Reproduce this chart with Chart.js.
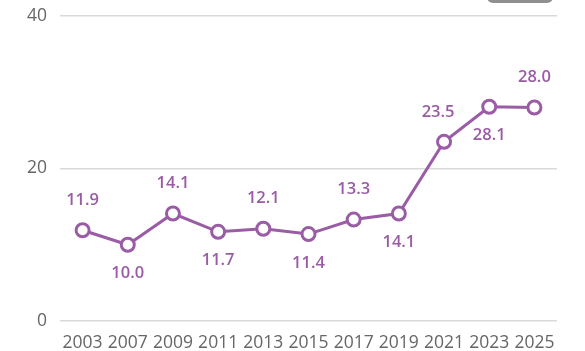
<!DOCTYPE html>
<html lang="en">
  <head>
    <meta charset="UTF-8" />
    <title>Line chart</title>
    <script src="https://cdn.jsdelivr.net/npm/chart.js"></script>
    <style>
      html, body { margin: 0; padding: 0; background: #fff; }
      #wrap { position: relative; width: 585px; height: 351px; }
      #badge {
        position: absolute; left: 487px; top: -10px; width: 66px; height: 13px;
        background: #8f8f8f; border-radius: 6px;
      }
    </style>
  </head>
  <body>
    <div id="wrap">
      <canvas id="chart" width="585" height="351"></canvas>
      <div id="badge"></div>
    </div>
    <script>
      // data
      const years = ['2003', '2007', '2009', '2011', '2013', '2015', '2017', '2019', '2021', '2023', '2025'];
      const values = [11.9, 10.0, 14.1, 11.7, 12.1, 11.4, 13.3, 14.1, 23.5, 28.1, 28.0];
      const labelAbove = [true, false, true, false, true, false, true, false, true, false, true];
      const yTicks = [0, 20, 40];

      const purple = '#9a5ca5';

      // simple value labels, alternating above/below the points
      const valueLabels = {
        id: 'valueLabels',
        afterDatasetsDraw(chart) {
          const ctx = chart.ctx;
          const meta = chart.getDatasetMeta(0);
          ctx.save();
          ctx.font = '600 16.5px "Open Sans"';
          ctx.fillStyle = purple;
          ctx.textAlign = 'center';
          ctx.textBaseline = 'middle';
          meta.data.forEach((pt, i) => {
            let dx = 0;
            if (i === 8) dx = -6;
            const dy = labelAbove[i] ? -30 : 29;
            ctx.fillText(values[i].toFixed(1), pt.x + dx, pt.y + dy);
          });
          ctx.restore();
        }
      };

      new Chart(document.getElementById('chart'), {
        type: 'line',
        data: {
          labels: years,
          datasets: [{
            data: values,
            borderColor: purple,
            borderWidth: 3,
            pointRadius: 6.5,
            pointBorderWidth: 3,
            pointBackgroundColor: '#fff',
            pointBorderColor: purple,
            tension: 0
          }]
        },
        options: {
          responsive: false,
          animation: false,
          layout: { padding: { top: 16, right: 28, bottom: 0, left: 0 } },
          plugins: { legend: { display: false }, tooltip: { enabled: false } },
          scales: {
            x: {
              offset: true,
              afterFit(scale) {
                scale.height = 30;
                scale.paddingLeft = 0;
                scale.paddingRight = 0;
              },
              grid: { display: false },
              border: { display: false },
              ticks: {
                color: '#666',
                font: { family: 'Open Sans', size: 17.5 },
                maxRotation: 0,
                autoSkip: false,
                padding: 4
              }
            },
            y: {
              min: 0,
              max: 40,
              afterFit(scale) {
                scale.width = 60;
                scale.paddingTop = 0;
                scale.paddingBottom = 0;
              },
              afterBuildTicks(scale) { scale.ticks = yTicks.map(v => ({ value: v })); },
              grid: { color: '#d9d9d9', lineWidth: 1.5, drawTicks: false },
              border: { display: false },
              ticks: {
                color: '#666',
                font: { family: 'Open Sans', size: 17.5 },
                padding: 13
              }
            }
          }
        },
        plugins: [valueLabels]
      });
    </script>
  </body>
</html>
